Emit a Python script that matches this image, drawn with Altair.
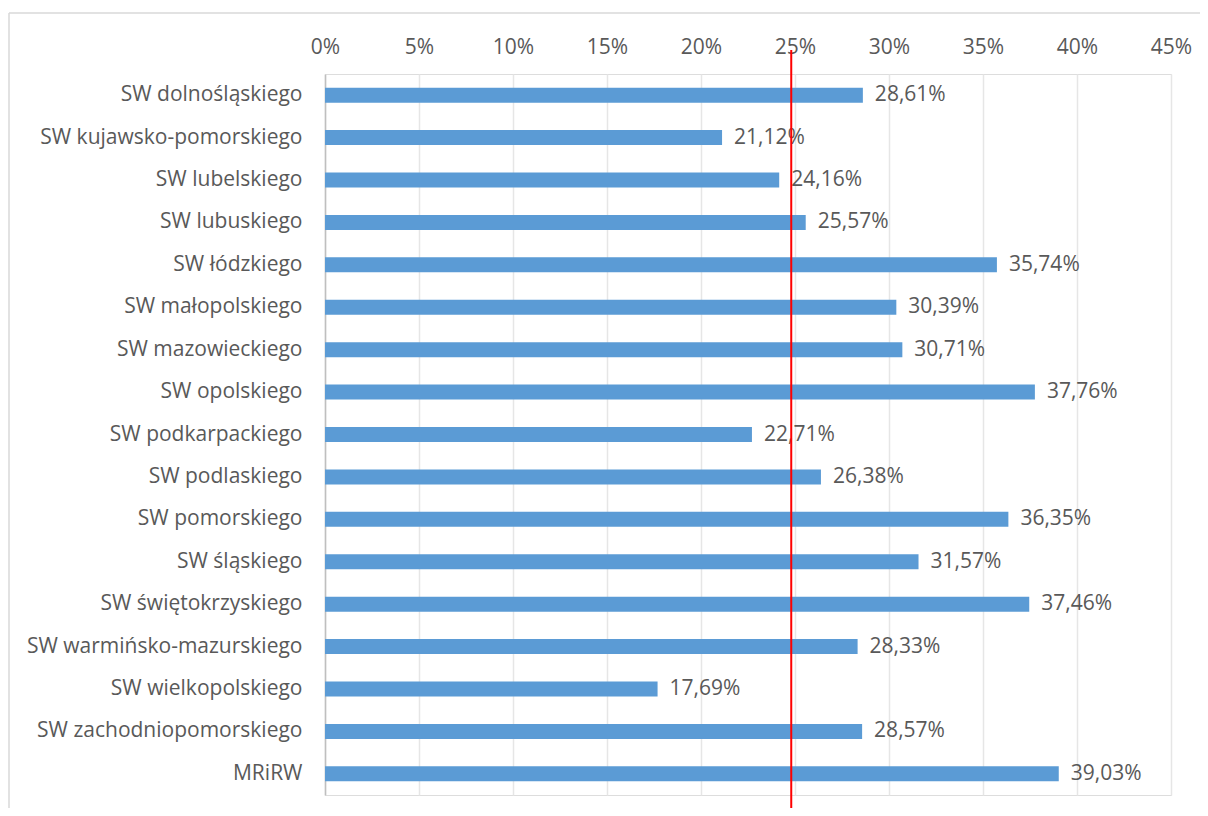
import altair as alt
import pandas as pd

categories = [
    "SW dolnośląskiego", "SW kujawsko-pomorskiego", "SW lubelskiego", "SW lubuskiego",
    "SW łódzkiego", "SW małopolskiego", "SW mazowieckiego", "SW opolskiego",
    "SW podkarpackiego", "SW podlaskiego", "SW pomorskiego", "SW śląskiego",
    "SW świętokrzyskiego", "SW warmińsko-mazurskiego", "SW wielkopolskiego",
    "SW zachodniopomorskiego", "MRiRW",
]
values = [28.61, 21.12, 24.16, 25.57, 35.74, 30.39, 30.71, 37.76, 22.71, 26.38,
          36.35, 31.57, 37.46, 28.33, 17.69, 28.57, 39.03]
x_ticks = [0, 5, 10, 15, 20, 25, 30, 35, 40, 45]
reference_value = [24.8]

FONT = "Open Sans"
FS = 21
GREY = "#595959"

df = pd.DataFrame({"category": categories, "value": values})
ref_df = pd.DataFrame({"ref": reference_value})

W, H = 846, 721

x_scale = alt.Scale(domain=[0, 45], nice=False, zero=True)
y_enc = alt.Y(
    "category:N", sort=categories, title=None,
    scale=alt.Scale(paddingInner=0, paddingOuter=0),
    axis=alt.Axis(labelFont=FONT, labelFontSize=FS, labelColor=GREY, labelPadding=23,
                  ticks=False, domain=True, domainColor="#bfbfbf", domainWidth=1.5,
                  labelLimit=400),
)

bars = alt.Chart(df).mark_bar(size=15, color="#5b9bd5").encode(
    x=alt.X("value:Q", scale=x_scale, title=None,
            axis=alt.Axis(orient="top", values=x_ticks, labelExpr="datum.value + '%'",
                          labelFont=FONT, labelFontSize=FS, labelColor=GREY,
                          labelFlush=False, labelOverlap=False,
                          labelPadding=17, ticks=False, domain=False,
                          grid=True, gridColor="#e6e6e6", gridWidth=1.5)),
    y=y_enc,
)

labels = alt.Chart(df).transform_calculate(
    lab="replace(format(datum.value, '.2f'), '.', ',') + '%'"
).mark_text(align="left", baseline="middle", dx=12, font=FONT, fontSize=FS, color=GREY).encode(
    x=alt.X("value:Q", scale=x_scale),
    y=alt.Y("category:N", sort=categories),
    text="lab:N",
)

red = alt.Chart(ref_df).mark_rule(color="#ff0000", strokeWidth=2).encode(
    x=alt.X("ref:Q", scale=x_scale),
    y=alt.value(-24),
    y2=alt.value(H + 14),
)

border_left = alt.Chart(ref_df).mark_rule(color="#d9d9d9", strokeWidth=1.5).encode(
    x=alt.value(-316),
    y=alt.value(-61),
    y2=alt.value(H + 20),
)
border_top = alt.Chart(ref_df).mark_rule(color="#d9d9d9", strokeWidth=1.5).encode(
    y=alt.value(-61),
    x=alt.value(-316),
    x2=alt.value(W + 40),
)

chart = alt.layer(border_left, border_top, bars, labels, red).properties(
    width=W, height=H,
    autosize=alt.AutoSizeParams(type="none"),
    padding={"left": 317, "top": 66, "right": 29, "bottom": 13},
).configure_view(stroke=None).configure(background="white")

chart.save("out.html", embed_options={"renderer": "svg", "actions": False})
